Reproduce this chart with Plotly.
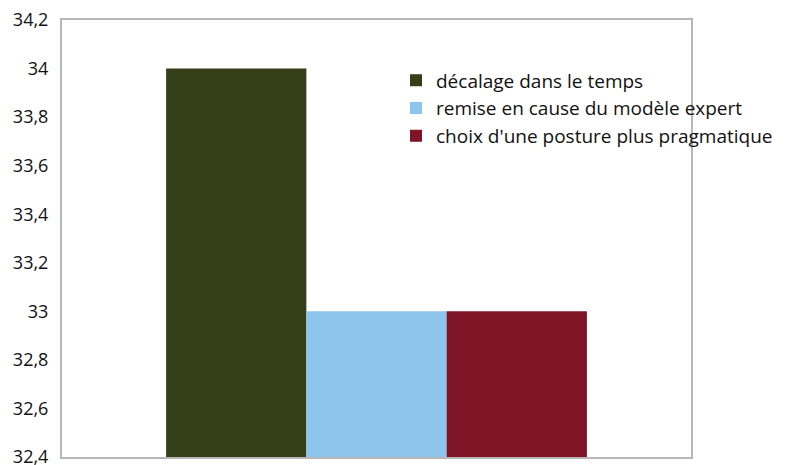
import plotly.graph_objects as go

series_names = ["décalage dans le temps", "remise en cause du modèle expert", "choix d'une posture plus pragmatique"]
series_values = [34, 33, 33]
colors = ["#354019", "#8EC5EC", "#7E1426"]
category = [""]
tick_vals = [32.4, 32.6, 32.8, 33.0, 33.2, 33.4, 33.6, 33.8, 34.0, 34.2]
tick_text = ["32,4", "32,6", "32,8", "33", "33,2", "33,4", "33,6", "33,8", "34", "34,2"]

fig = go.Figure()
for name, val, col in zip(series_names, series_values, colors):
    fig.add_trace(go.Bar(x=category, y=[val], name=name, marker=dict(color=col, line=dict(width=0))))

fig.update_layout(
    width=778, height=457,
    margin=dict(l=54, r=90, t=12, b=8),
    paper_bgcolor="white", plot_bgcolor="white",
    barmode="group", bargap=0.331, bargroupgap=0,
    font=dict(family="Open Sans, sans-serif", size=18, color="#111111"),
    showlegend=True,
    legend=dict(x=0.531, y=0.905, xanchor="left", yanchor="top",
                bgcolor="rgba(0,0,0,0)", font=dict(size=19), tracegroupgap=0,
                itemwidth=30),
)
fig.update_xaxes(showticklabels=False, showgrid=False, showline=True, mirror=True,
                 linecolor="#B7B7B7", linewidth=2, ticks="", zeroline=False,
                 automargin=False)
fig.update_yaxes(range=[32.4, 34.2], tickvals=tick_vals, ticktext=tick_text,
                 showgrid=False, showline=True, mirror=True, linecolor="#B7B7B7",
                 linewidth=2, ticks="", ticklabelstandoff=8, zeroline=False,
                 ticklabeloverflow="allow", automargin=False)

fig.write_html("out.html")
